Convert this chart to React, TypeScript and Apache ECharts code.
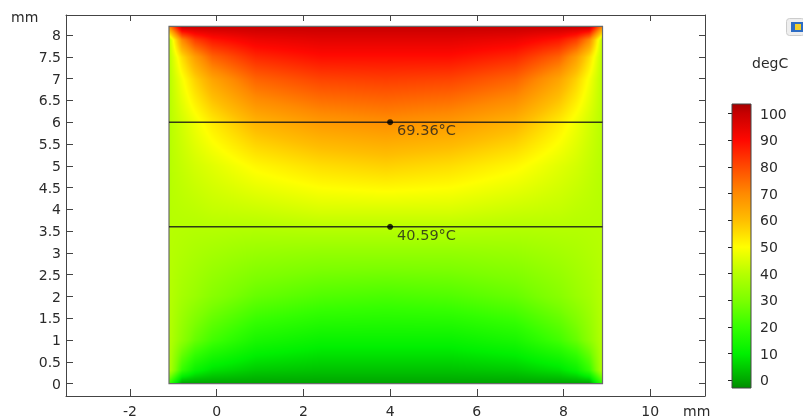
import React, { useEffect, useRef } from "react";
import * as echarts from "echarts";

// ---- data ----
// sample positions of the temperature field (mm)
const xGrid = [-1.1, -0.8, -0.5, -0.1, 0.9, 2.4, 3.9, 5.4, 6.9, 7.9, 8.3, 8.6, 8.9];
const yGrid = [0, 0.3, 1, 2, 3, 4, 5, 6, 7, 7.5, 7.9, 8.2];
// temperatures (degC), one row per yGrid value, one column per xGrid value
const tempY0 = [20, 0, 0, 0, 0, 0, 0, 0, 0, 0, 0, 0, 20];
const tempY03 = [40, 20, 12, 8, 5, 4, 4, 4, 5, 8, 12, 20, 40];
const tempY1 = [40, 33, 27, 22, 15, 12, 12, 12, 15, 22, 27, 33, 40];
const tempY2 = [40, 37, 35, 32, 27, 24, 23, 24, 27, 32, 35, 37, 40];
const tempY3 = [40, 39, 38, 37, 35, 34, 34, 34, 35, 37, 38, 39, 40];
const tempY4 = [40, 40.5, 41, 42, 43, 45, 45, 45, 43, 42, 41, 40.5, 40];
const tempY5 = [40, 42, 44, 46, 51, 55, 57, 55, 51, 46, 44, 42, 40];
const tempY6 = [40, 44, 48, 53, 62, 67, 69, 67, 62, 53, 48, 44, 40];
const tempY7 = [40, 49, 57, 65, 76, 81, 82, 81, 76, 65, 57, 49, 40];
const tempY75 = [40, 55, 66, 76, 85, 89, 89, 89, 85, 76, 66, 55, 40];
const tempY79 = [40, 70, 82, 88, 93, 95, 95, 95, 93, 88, 82, 70, 40];
const tempY82 = [70, 100, 100, 100, 100, 100, 100, 100, 100, 100, 100, 100, 70];
const tempRows = [tempY0, tempY03, tempY1, tempY2, tempY3, tempY4, tempY5, tempY6, tempY7, tempY75, tempY79, tempY82];

// cut lines and probe points
const cutLineY = [6, 3.6];
const probeX = [4, 4];
const probeY = [6, 3.6];
const probeValues = [69.36, 40.59];

// tick labels
const xTicks = [-2, 0, 2, 4, 6, 8, 10];
const yTicks = [0, 0.5, 1, 1.5, 2, 2.5, 3, 3.5, 4, 4.5, 5, 5.5, 6, 6.5, 7, 7.5, 8];
const cbTicks = [0, 10, 20, 30, 40, 50, 60, 70, 80, 90, 100];

// colour table
const cmapValues = [-2.85, 0, 10, 20, 30, 40, 50, 60, 70, 80, 90, 100, 103.6];
const cmapColors = ["#008c00", "#00a600", "#00f000", "#34ff00", "#7cff00", "#b6ff00", "#ffff00", "#ffbe00", "#ff8a00", "#ff4a00", "#ff0800", "#c80000", "#a80000"];

const X_MIN = -3.476;
const X_MAX = 11.264;
const Y_MIN = -0.282;
const Y_MAX = 8.459;
const CB_MIN = cmapValues[0];
const CB_MAX = cmapValues[cmapValues.length - 1];
const FONT = "DejaVu Sans";

function hexToRgb(h: string) {
  const n = parseInt(h.slice(1), 16);
  return [(n >> 16) & 255, (n >> 8) & 255, n & 255];
}
const cmapRgb = cmapColors.map(hexToRgb);

function colorFor(v: number) {
  if (v <= cmapValues[0]) return cmapRgb[0];
  const last = cmapValues.length - 1;
  if (v >= cmapValues[last]) return cmapRgb[last];
  let i = 0;
  while (i < last - 1 && v > cmapValues[i + 1]) i++;
  const t = (v - cmapValues[i]) / (cmapValues[i + 1] - cmapValues[i]);
  const a = cmapRgb[i];
  const b = cmapRgb[i + 1];
  return [a[0] + (b[0] - a[0]) * t, a[1] + (b[1] - a[1]) * t, a[2] + (b[2] - a[2]) * t];
}

function findCell(arr: number[], v: number) {
  let i = 0;
  while (i < arr.length - 2 && v > arr[i + 1]) i++;
  const t = Math.max(0, Math.min(1, (v - arr[i]) / (arr[i + 1] - arr[i])));
  return [i, t];
}

let cachedKey = "";
let cachedUrl = "";
function fieldImage(w: number, h: number) {
  const key = w + "x" + h;
  if (key === cachedKey) return cachedUrl;
  const canvas = document.createElement("canvas");
  canvas.width = w;
  canvas.height = h;
  const ctx = canvas.getContext("2d")!;
  const img = ctx.createImageData(w, h);
  const x0 = xGrid[0];
  const x1 = xGrid[xGrid.length - 1];
  const y0 = yGrid[0];
  const y1 = yGrid[yGrid.length - 1];
  for (let j = 0; j < h; j++) {
    const y = y1 - ((j + 0.5) / h) * (y1 - y0);
    const [iy, ty] = findCell(yGrid, y);
    for (let i = 0; i < w; i++) {
      const x = x0 + ((i + 0.5) / w) * (x1 - x0);
      const [ix, tx] = findCell(xGrid, x);
      const r0 = tempRows[iy];
      const r1 = tempRows[iy + 1];
      const a = r0[ix] + (r0[ix + 1] - r0[ix]) * tx;
      const b = r1[ix] + (r1[ix + 1] - r1[ix]) * tx;
      const v = a + (b - a) * ty;
      const c = colorFor(v);
      const k = (j * w + i) * 4;
      img.data[k] = c[0];
      img.data[k + 1] = c[1];
      img.data[k + 2] = c[2];
      img.data[k + 3] = 255;
    }
  }
  ctx.putImageData(img, 0, 0);
  cachedKey = key;
  cachedUrl = canvas.toDataURL();
  return cachedUrl;
}

export default function App() {
  const ref = useRef<HTMLDivElement>(null);
  useEffect(() => {
    document.body.style.margin = "0";
    const chart = echarts.init(ref.current!, null, { renderer: "svg" });
    const axisColor = "#444";
    const labelStyle = { color: "#2a2a2a", fontSize: 14, fontFamily: FONT };
    const gradStops = cmapValues.map((v, i) => ({
      offset: (v - CB_MIN) / (CB_MAX - CB_MIN),
      color: cmapColors[i],
    }));

    const option: any = {
      animation: false,
      textStyle: { fontFamily: FONT },
      grid: [
        { left: 66, top: 15, width: 639, height: 381, show: false, outerBoundsMode: "none" },
        { left: 732, top: 104, width: 19, height: 284, show: false, outerBoundsMode: "none" },
      ],
      xAxis: [
        {
          gridIndex: 0, type: "value", min: X_MIN, max: X_MAX, position: "bottom",
          axisLine: { show: true, onZero: false, lineStyle: { color: axisColor } },
          axisTick: { show: true, inside: true, length: 7, customValues: xTicks, lineStyle: { color: axisColor } },
          axisLabel: { show: true, customValues: xTicks, margin: 8, ...labelStyle },
          splitLine: { show: false },
        },
        {
          gridIndex: 0, type: "value", min: X_MIN, max: X_MAX, position: "top",
          axisLine: { show: true, onZero: false, lineStyle: { color: axisColor } },
          axisTick: { show: true, inside: true, length: 6, customValues: xTicks, lineStyle: { color: axisColor } },
          axisLabel: { show: false },
          splitLine: { show: false },
        },
        { gridIndex: 1, type: "value", min: 0, max: 1, show: false },
      ],
      yAxis: [
        {
          gridIndex: 0, type: "value", min: Y_MIN, max: Y_MAX, position: "left",
          axisLine: { show: true, onZero: false, lineStyle: { color: axisColor } },
          axisTick: { show: true, inside: true, length: 7, customValues: yTicks, lineStyle: { color: axisColor } },
          axisLabel: { show: true, customValues: yTicks, margin: 5, ...labelStyle },
          splitLine: { show: false },
        },
        {
          gridIndex: 0, type: "value", min: Y_MIN, max: Y_MAX, position: "right",
          axisLine: { show: true, onZero: false, lineStyle: { color: axisColor } },
          axisTick: { show: true, inside: true, length: 6, customValues: yTicks, lineStyle: { color: axisColor } },
          axisLabel: { show: false },
          splitLine: { show: false },
        },
        {
          gridIndex: 1, type: "value", min: CB_MIN, max: CB_MAX, position: "right",
          axisLine: { show: false },
          axisTick: { show: true, inside: true, length: 4, customValues: cbTicks, lineStyle: { color: "#222" } },
          axisLabel: { show: true, customValues: cbTicks, margin: 9, ...labelStyle },
          splitLine: { show: false },
        },
        {
          gridIndex: 1, type: "value", min: CB_MIN, max: CB_MAX, position: "left",
          axisLine: { show: false },
          axisTick: { show: true, inside: true, length: 4, customValues: cbTicks, lineStyle: { color: "#222" } },
          axisLabel: { show: false },
          splitLine: { show: false },
        },
      ],
      series: [
        {
          type: "custom",
          xAxisIndex: 0,
          yAxisIndex: 0,
          clip: false,
          z: 1,
          data: [[xGrid[0], yGrid[0], xGrid[xGrid.length - 1], yGrid[yGrid.length - 1]]],
          renderItem: (params: any, api: any) => {
            const p0 = api.coord([api.value(0), api.value(3)]);
            const p1 = api.coord([api.value(2), api.value(1)]);
            const w = p1[0] - p0[0];
            const h = p1[1] - p0[1];
            const url = fieldImage(Math.max(1, Math.round(w)), Math.max(1, Math.round(h)));
            return {
              type: "group",
              children: [
                { type: "image", style: { image: url, x: p0[0], y: p0[1], width: w, height: h } },
                { type: "rect", shape: { x: p0[0], y: p0[1], width: w, height: h }, style: { fill: "none", stroke: "#6a6a6a", lineWidth: 1.2 } },
              ],
            };
          },
        },
        ...cutLineY.map((y) => ({
          type: "line",
          xAxisIndex: 0,
          yAxisIndex: 0,
          z: 3,
          symbol: "none",
          silent: true,
          data: [[xGrid[0], y], [xGrid[xGrid.length - 1], y]],
          lineStyle: { color: "rgba(25,25,25,0.85)", width: 1.6 },
        })),
        {
          type: "scatter",
          xAxisIndex: 0,
          yAxisIndex: 0,
          z: 4,
          symbol: "circle",
          symbolSize: 6,
          itemStyle: { color: "#000" },
          data: probeX.map((x, i) => [x, probeY[i], probeValues[i]]),
          label: {
            show: true,
            position: "right",
            distance: 4,
            offset: [0, 8],
            align: "left",
            verticalAlign: "middle",
            color: "#1e1e1e",
            fontSize: 14.5,
            fontFamily: FONT,
            formatter: (p: any) => p.value[2].toFixed(2) + "°C",
          },
        },
        {
          type: "custom",
          xAxisIndex: 2,
          yAxisIndex: 2,
          clip: false,
          z: 1,
          data: [[0, CB_MIN, 1, CB_MAX]],
          renderItem: (params: any, api: any) => {
            const p0 = api.coord([api.value(0), api.value(3)]);
            const p1 = api.coord([api.value(2), api.value(1)]);
            return {
              type: "rect",
              shape: { x: p0[0], y: p0[1], width: p1[0] - p0[0], height: p1[1] - p0[1] },
              style: {
                fill: new echarts.graphic.LinearGradient(0, 1, 0, 0, gradStops),
                stroke: "#444",
                lineWidth: 1,
              },
            };
          },
        },
      ],
      graphic: [
        { type: "text", left: 11, top: 10, style: { text: "mm", fill: "#2a2a2a", font: `14px '${FONT}'` } },
        { type: "text", left: 683, top: 404, style: { text: "mm", fill: "#2a2a2a", font: `14px '${FONT}'` } },
        { type: "text", left: 752, top: 56, style: { text: "degC", fill: "#2a2a2a", font: `14px '${FONT}'` } },
        { type: "rect", left: 786, top: 18, shape: { width: 18, height: 17, r: 3 }, style: { fill: "#eeeeee", stroke: "#cccccc" } },
        { type: "rect", left: 791, top: 22, shape: { width: 12, height: 10 }, style: { fill: "#2d6cc4" } },
        { type: "rect", left: 795, top: 24, shape: { width: 6, height: 6 }, style: { fill: "#f3cf2a" } },
      ],
    };
    chart.setOption(option);
    return () => chart.dispose();
  }, []);
  return <div ref={ref} style={{ position: "fixed", left: 0, top: 0, width: 803, height: 419 }} />;
}
